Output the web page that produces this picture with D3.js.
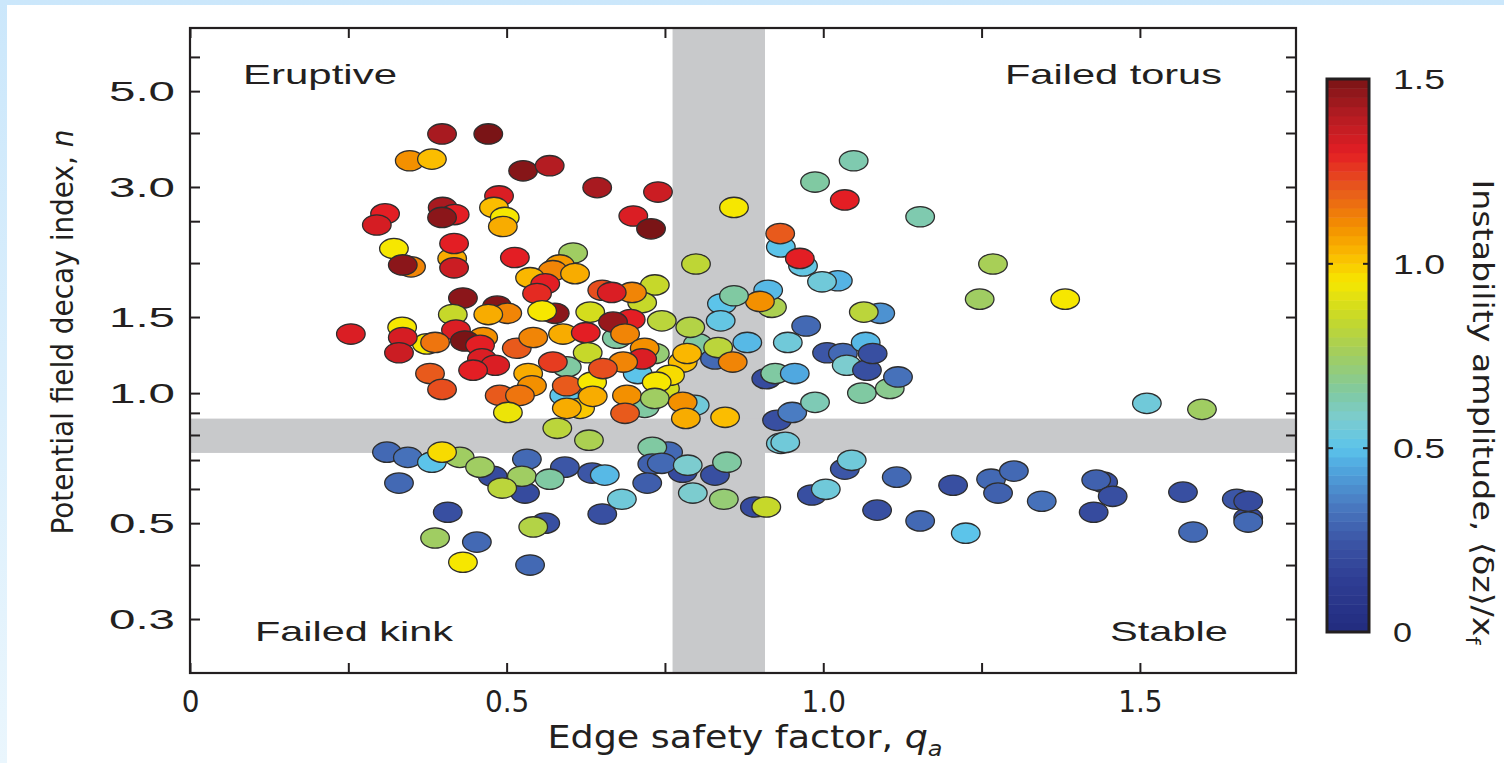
<!DOCTYPE html>
<html>
<head>
<meta charset="utf-8">
<script src="https://cdn.jsdelivr.net/npm/d3@7"></script>
<style>
body { margin: 0; background: #fff; }
svg { display: block; }
text { font-family: "Liberation Sans", Arial, sans-serif; fill: #231f20; }
.narrow { font-family: "Liberation Sans Narrow", "DejaVu Sans Condensed", "Liberation Sans", sans-serif; }
</style>
</head>
<body>
<svg width="1504" height="763"></svg>
<script>
// edge safety factor q_a
var qa = [
    0.349, 0.414, 0.933, 0.968, 1.023, 1.090, 0.919, 0.840, 0.374, 0.463,
    0.595, 0.591, 0.616, 0.478, 0.635, 0.529, 0.561, 0.755, 0.778, 1.034,
    0.982, 0.674, 0.734, 0.707, 0.802, 0.778, 0.829, 0.750, 0.718, 0.797,
    1.442, 1.653, 1.671, 0.398, 0.471, 0.347, 0.382, 0.526, 0.568, 0.643,
    0.308, 0.295, 0.399, 0.418, 0.398, 0.488, 0.480, 0.497, 0.494, 0.322,
    0.336, 0.417, 0.417, 0.513, 0.605, 0.584, 0.573, 0.608, 0.537, 0.561,
    0.548, 0.431, 0.485, 0.501, 0.471, 0.415, 0.335, 0.420, 0.254, 0.576,
    0.556, 0.632, 0.651, 0.739, 0.700, 0.728, 0.859, 0.799, 1.048, 0.987,
    1.034, 0.932, 0.963, 0.998, 1.064, 0.973, 0.913, 0.900, 0.859, 0.838,
    0.790, 0.745, 0.734, 0.714, 0.698, 0.666, 0.696, 0.668, 0.336, 0.330,
    0.387, 0.434, 0.458, 0.461, 0.482, 0.447, 0.379, 0.398, 0.516, 0.542,
    0.589, 0.625, 0.628, 0.573, 0.534, 0.540, 0.595, 0.635, 0.636, 0.489,
    0.521, 0.595, 0.502, 0.580, 0.630, 0.311, 0.344, 0.382, 0.426, 0.398,
    0.458, 0.532, 0.592, 0.524, 0.568, 0.655, 0.493, 0.330, 0.407, 0.387,
    0.453, 0.431, 0.542, 0.537, 0.651, 0.730, 0.730, 0.745, 0.786, 0.829,
    0.848, 0.722, 0.682, 0.794, 0.843, 0.892, 0.910, 0.933, 1.045, 1.004,
    1.085, 0.687, 0.718, 0.714, 0.684, 0.652, 0.834, 0.880, 0.785, 0.857,
    0.758, 0.737, 0.690, 0.734, 0.687, 0.778, 0.783, 0.845, 0.910, 0.924,
    0.955, 0.927, 0.951, 0.987, 0.940, 0.944, 1.006, 1.031, 1.067, 1.037,
    1.069, 1.078, 1.061, 1.105, 1.118, 1.153, 1.268, 1.247, 1.382, 1.511,
    1.598, 1.116, 1.205, 1.265, 1.301, 1.276, 1.345, 1.431, 1.457, 1.427,
    1.568, 1.671, 1.671, 1.584, 1.153, 1.225
];

// potential field decay index n
var decayIndex = [
    1.96, 2.05, 2.18, 1.97, 1.82, 1.53, 1.58, 1.61, 1.30, 1.345,
    1.15, 0.988, 0.922, 0.642, 0.653, 0.587, 0.500, 0.730, 0.656, 0.667,
    0.581, 1.34, 1.235, 1.11, 1.30, 1.18, 1.20, 1.025, 0.927, 0.937,
    0.622, 0.568, 0.514, 3.98, 3.98, 3.45, 3.48, 3.27, 3.36, 2.99,
    2.60, 2.45, 2.69, 2.59, 2.55, 2.86, 2.69, 2.55, 2.43, 2.16,
    1.98, 2.22, 1.95, 2.06, 2.11, 1.98, 1.92, 1.89, 1.85, 1.79,
    1.70, 1.66, 1.59, 1.53, 1.52, 1.52, 1.42, 1.40, 1.37, 1.53,
    1.55, 1.54, 1.73, 2.92, 2.57, 2.40, 2.69, 1.99, 3.45, 3.08,
    2.80, 2.34, 2.05, 1.81, 1.54, 1.43, 1.73, 1.63, 1.68, 1.47,
    1.42, 1.47, 1.78, 1.62, 1.71, 1.71, 1.48, 1.46, 1.345, 1.24,
    1.31, 1.32, 1.29, 1.20, 1.16, 1.13, 1.11, 1.02, 1.27, 1.345,
    1.37, 1.38, 1.24, 1.18, 1.11, 1.04, 1.04, 1.06, 0.983, 0.988,
    0.988, 0.922, 0.902, 0.829, 0.778, 0.730, 0.710, 0.692, 0.710, 0.730,
    0.674, 0.703, 0.674, 0.642, 0.632, 0.646, 0.603, 0.619, 0.530, 0.462,
    0.452, 0.406, 0.490, 0.400, 0.525, 0.749, 0.685, 0.688, 0.681, 0.646,
    0.692, 0.619, 0.568, 0.587, 0.568, 0.545, 0.545, 0.765, 0.699, 0.599,
    0.536, 1.37, 1.27, 1.20, 1.18, 1.14, 1.275, 1.31, 1.235, 1.18,
    1.10, 1.06, 0.988, 0.972, 0.898, 0.952, 0.874, 0.879, 1.08, 1.11,
    1.11, 0.865, 0.902, 0.952, 0.769, 1.31, 1.24, 1.235, 1.31, 1.16,
    1.13, 1.235, 1.00, 1.025, 1.09, 2.56, 1.99, 1.65, 1.65, 0.947,
    0.917, 0.639, 0.612, 0.632, 0.660, 0.587, 0.562, 0.629, 0.577, 0.530,
    0.590, 0.562, 0.503, 0.477, 0.506, 0.474
];

// instability amplitude <dz>/x_f
var amplitude = [
    1.12, 1.05, 0.5, 0.52, 0.47, 0.4, 0.78, 0.5, 0.95, 1.1,
    0.65, 0.5, 1.0, 0.2, 0.25, 0.2, 0.22, 0.3, 0.2, 0.25,
    0.22, 0.65, 0.72, 0.5, 0.65, 1.02, 0.3, 0.88, 0.65, 0.55,
    0.22, 0.25, 0.2, 1.42, 1.5, 1.1, 1.02, 1.48, 1.4, 1.42,
    1.3, 1.33, 1.42, 1.3, 1.47, 1.32, 1.02, 0.95, 1.05, 0.95,
    1.47, 1.3, 1.35, 1.3, 0.75, 1.08, 1.12, 1.05, 1.03, 1.3,
    1.28, 1.47, 1.48, 1.12, 1.05, 0.85, 0.95, 1.32, 1.32, 1.47,
    0.95, 0.88, 1.22, 1.35, 1.32, 1.5, 0.95, 0.83, 0.63, 0.65,
    1.3, 1.2, 1.3, 0.55, 0.82, 0.3, 0.48, 1.1, 0.65, 0.52,
    0.8, 0.82, 0.85, 0.85, 1.12, 1.32, 1.3, 1.45, 1.33, 1.35,
    1.15, 1.5, 1.3, 1.32, 1.32, 1.3, 1.2, 1.22, 1.2, 1.12,
    1.05, 1.3, 0.85, 1.25, 1.05, 1.1, 1.2, 0.95, 1.05, 1.2,
    1.15, 1.05, 0.93, 0.82, 0.78, 0.3, 0.32, 0.5, 0.75, 0.97,
    0.75, 0.3, 0.25, 0.75, 0.65, 0.48, 0.82, 0.3, 0.22, 0.75,
    0.3, 0.95, 0.8, 0.3, 0.22, 0.65, 0.28, 0.3, 0.58, 0.22,
    0.65, 0.27, 0.55, 0.58, 0.72, 0.2, 0.85, 0.55, 0.55, 0.55,
    0.22, 1.12, 1.1, 1.32, 1.12, 1.22, 0.82, 0.48, 1.03, 1.12,
    0.97, 0.95, 1.1, 0.75, 1.2, 1.1, 1.05, 1.02, 0.2, 0.65,
    0.45, 0.22, 0.35, 0.62, 0.55, 0.55, 0.25, 0.3, 0.48, 0.58,
    0.22, 0.22, 0.65, 0.68, 0.32, 0.63, 0.77, 0.75, 0.95, 0.55,
    0.75, 0.3, 0.22, 0.3, 0.3, 0.28, 0.32, 0.28, 0.22, 0.2,
    0.22, 0.2, 0.3, 0.3, 0.3, 0.5
];

// shaded transition bands
var qaBand = [0.762, 0.908];
var decayBand = [0.727, 0.873];

var xMajorTicks = [0, 0.5, 1.0, 1.5];
var xMinorTicks = [0.25, 0.75, 1.25];
var yTicks = [0.3, 0.4, 0.5, 0.6, 0.7, 0.8, 0.9, 1.0, 1.5, 2, 2.5, 3, 4, 5, 6];
var yLabelled = [0.3, 0.5, 1.0, 1.5, 3.0, 5.0];
var cbTicks = [0, 0.5, 1.0, 1.5];

var regionLabels = [
    {text: "Eruptive", x: 243, y: 84, len: 154},
    {text: "Failed torus", x: 1005, y: 84, len: 217},
    {text: "Failed kink", x: 255, y: 641, len: 198},
    {text: "Stable", x: 1110, y: 641, len: 118}
];

// colour map of the bar
var ampStops = [0, 0.15, 0.25, 0.35, 0.45, 0.5, 0.58, 0.65, 0.75, 0.85, 0.95, 1.02, 1.1, 1.2, 1.3, 1.4, 1.5];
var ampColors = ["#222b7e", "#2f3f95", "#3c56a6", "#4a7cc2", "#50a8e0", "#5cc4ea", "#7ccccf", "#80c9a2",
    "#a0cd62", "#c6d82a", "#f6e700", "#fbbd00", "#f39000", "#e85a1c", "#e31e24", "#b41c22", "#7a1416"];

var svg = d3.select("svg"),
    width = +svg.attr("width"),
    height = +svg.attr("height");

var plot = {left: 190, right: 1296, top: 28, bottom: 673};
var ink = "#231f20";

var x = d3.scaleLinear().domain([0, 1.7465]).range([plot.left, plot.right]);
var y = d3.scaleLog().domain([0.225, 7]).range([plot.bottom, plot.top]);
var color = d3.scaleLinear().domain(ampStops).range(ampColors);

var points = qa.map(function (q, i) {
    return {q: q, n: decayIndex[i], a: amplitude[i]};
});

// page background
var defs = svg.append("defs");
var grad = defs.append("linearGradient").attr("id", "edge")
    .attr("x1", 0).attr("y1", 0).attr("x2", 0).attr("y2", 1);
grad.append("stop").attr("offset", "0%").attr("stop-color", "#cbe7fb");
grad.append("stop").attr("offset", "100%").attr("stop-color", "#eaf6fd");
svg.append("rect").attr("width", width).attr("height", height).attr("fill", "url(#edge)");
svg.append("rect").attr("x", 7).attr("y", 5).attr("width", width - 7).attr("height", height - 5).attr("fill", "#fff");

// bands
svg.append("rect")
    .attr("x", x(qaBand[0])).attr("y", plot.top)
    .attr("width", x(qaBand[1]) - x(qaBand[0])).attr("height", plot.bottom - plot.top)
    .attr("fill", "#c8c9cb");
svg.append("rect")
    .attr("x", plot.left).attr("y", y(decayBand[1]))
    .attr("width", plot.right - plot.left).attr("height", y(decayBand[0]) - y(decayBand[1]))
    .attr("fill", "#c8c9cb");

// points
svg.append("g")
    .attr("class", "points")
    .selectAll("ellipse")
    .data(points)
    .enter().append("ellipse")
    .attr("cx", function (d) { return x(d.q); })
    .attr("cy", function (d) { return y(d.n); })
    .attr("rx", 14.3)
    .attr("ry", 10.2)
    .attr("fill", function (d) { return color(d.a); })
    .attr("stroke", "#2e2e2e")
    .attr("stroke-width", 1.3);

// axes with inward ticks
function styleAxis(g) {
    g.select(".domain").remove();
    g.selectAll(".tick line").attr("stroke", ink).attr("stroke-width", 2);
}

var fmt = function (d) { return d === 0 ? "0" : d3.format(".1f")(d); };

var xAxis = svg.append("g")
    .attr("transform", "translate(0," + plot.bottom + ")")
    .call(d3.axisBottom(x).tickValues(xMajorTicks.concat(xMinorTicks)).tickSize(-10).tickSizeOuter(0)
        .tickFormat(function (d) { return xMajorTicks.indexOf(d) >= 0 ? fmt(d) : ""; }))
    .call(styleAxis);
xAxis.selectAll("text")
    .attr("class", "narrow")
    .attr("y", 39).attr("dy", 0)
    .style("font-size", "31px")
    .attr("fill", ink);

svg.append("g")
    .attr("transform", "translate(0," + plot.top + ")")
    .call(d3.axisTop(x).tickValues(xMajorTicks.concat(xMinorTicks)).tickSize(-10).tickSizeOuter(0).tickFormat(""))
    .call(styleAxis);

var yAxis = svg.append("g")
    .attr("transform", "translate(" + plot.left + ",0)")
    .call(d3.axisLeft(y).tickValues(yTicks).tickSize(-10).tickSizeOuter(0).tickPadding(15)
        .tickFormat(function (d) { return yLabelled.indexOf(d) >= 0 ? fmt(d) : ""; }))
    .call(styleAxis);
yAxis.selectAll("text")
    .attr("dy", "0.36em")
    .style("font-size", "27px")
    .attr("fill", ink)
    .attr("textLength", function () { return this.textContent ? 66 : null; })
    .attr("lengthAdjust", "spacingAndGlyphs");

svg.append("g")
    .attr("transform", "translate(" + plot.right + ",0)")
    .call(d3.axisRight(y).tickValues(yTicks).tickSize(-10).tickSizeOuter(0).tickFormat(""))
    .call(styleAxis);

// frame
svg.append("rect")
    .attr("x", plot.left).attr("y", plot.top)
    .attr("width", plot.right - plot.left).attr("height", plot.bottom - plot.top)
    .attr("fill", "none").attr("stroke", ink).attr("stroke-width", 2.2);

// region labels
svg.append("g").selectAll("text")
    .data(regionLabels)
    .enter().append("text")
    .attr("x", function (d) { return d.x; })
    .attr("y", function (d) { return d.y; })
    .attr("textLength", function (d) { return d.len; })
    .attr("lengthAdjust", "spacingAndGlyphs")
    .style("font-size", "28px")
    .attr("fill", "#333")
    .text(function (d) { return d.text; });

// axis titles
var yTitle = svg.append("text")
    .attr("class", "narrow")
    .attr("transform", "translate(73,332) rotate(-90)")
    .attr("text-anchor", "middle")
    .attr("textLength", 405)
    .attr("lengthAdjust", "spacingAndGlyphs")
    .style("font-size", "31px");
yTitle.append("tspan").text("Potential field decay index, ");
yTitle.append("tspan").style("font-style", "italic").text("n");

var xTitle = svg.append("text")
    .attr("class", "narrow")
    .attr("x", 745).attr("y", 748)
    .attr("text-anchor", "middle")
    .attr("textLength", 395)
    .attr("lengthAdjust", "spacingAndGlyphs")
    .style("font-size", "32px");
xTitle.append("tspan").text("Edge safety factor, ");
xTitle.append("tspan").style("font-style", "italic").text("q");
xTitle.append("tspan").style("font-style", "italic").style("font-size", "21px").attr("dy", 8).text("a");

// colour bar
var cb = {left: 1327, width: 42, top: 79, bottom: 632};
var cbScale = d3.scaleLinear().domain([0, 1.5]).range([cb.bottom, cb.top]);
var nBands = 60;
var bands = d3.range(nBands).map(function (i) { return 1.5 * i / nBands; });

svg.append("g").selectAll("rect")
    .data(bands)
    .enter().append("rect")
    .attr("x", cb.left)
    .attr("y", function (d) { return cbScale(d + 1.5 / nBands); })
    .attr("width", cb.width)
    .attr("height", function (d) { return cbScale(d) - cbScale(d + 1.5 / nBands) + 0.5; })
    .attr("fill", function (d) { return color(d + 0.75 / nBands); });

svg.append("g")
    .attr("transform", "translate(" + cb.left + ",0)")
    .call(d3.axisLeft(cbScale).tickValues([0.5, 1.0]).tickSize(-6).tickSizeOuter(0).tickFormat(""))
    .call(styleAxis);
var cbAxis = svg.append("g")
    .attr("transform", "translate(" + (cb.left + cb.width) + ",0)")
    .call(d3.axisRight(cbScale).tickValues(cbTicks).tickSize(-6).tickSizeOuter(0).tickPadding(24).tickFormat(fmt))
    .call(styleAxis);
cbAxis.selectAll(".tick line").filter(function (d) { return d === 0 || d === 1.5; }).remove();
cbAxis.selectAll("text")
    .attr("dy", "0.36em")
    .style("font-size", "27px")
    .attr("fill", ink)
    .attr("textLength", function (d) { return d === 0 ? 19 : 52; })
    .attr("lengthAdjust", "spacingAndGlyphs");

svg.append("rect")
    .attr("x", cb.left).attr("y", cb.top)
    .attr("width", cb.width).attr("height", cb.bottom - cb.top)
    .attr("fill", "none").attr("stroke", ink).attr("stroke-width", 3);

var cbTitle = svg.append("text")
    .attr("class", "narrow")
    .attr("transform", "translate(1473,412) rotate(90)")
    .attr("text-anchor", "middle")
    .attr("textLength", 465)
    .attr("lengthAdjust", "spacingAndGlyphs")
    .style("font-size", "29px");
cbTitle.append("tspan").text("Instability amplitude, \u27e8\u03b4z\u27e9/x");
cbTitle.append("tspan").style("font-size", "20px").attr("dy", 7).text("f");
</script>
</body>
</html>
